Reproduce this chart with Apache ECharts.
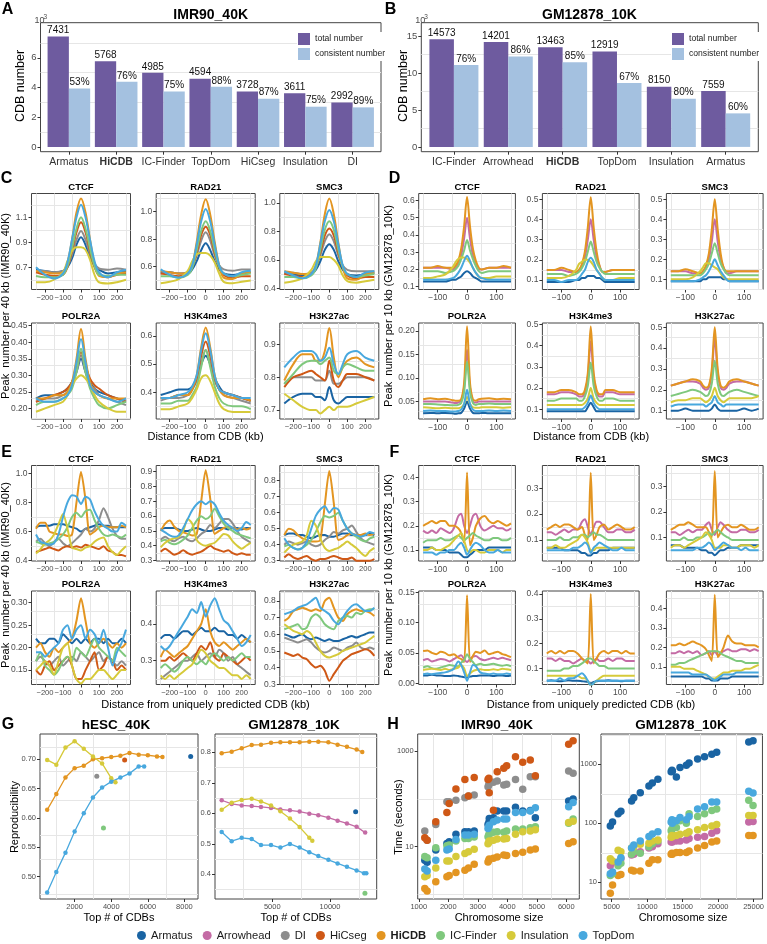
<!DOCTYPE html>
<html><head><meta charset="utf-8">
<script src="https://cdn.jsdelivr.net/npm/echarts@6/dist/echarts.min.js"></script>
<style>html,body{margin:0;padding:0;background:#fff;}#chart{width:767px;height:944px;}</style>
</head><body><div id="chart"></div>
<script>
// ================= DATA =================
const catsA = ['Armatus','HiCDB','IC-Finder','TopDom','HiCseg','Insulation','DI'];
const totalA = [7431,5768,4985,4594,3728,3611,2992];
const consistentA = [3938,4384,3739,4043,3243,2708,2663];
const pctA = [53,76,75,88,87,75,89];
const yTicksA = [0,2000,4000,6000];

const catsB = ['IC-Finder','Arrowhead','HiCDB','TopDom','Insulation','Armatus'];
const totalB = [14573,14201,13463,12919,8150,7559];
const consistentB = [11075,12213,11444,8656,6520,4535];
const pctB = [76,86,85,67,80,60];
const yTicksB = [0,5000,10000,15000];

const methodsAll = ['Armatus','Arrowhead','DI','HiCseg','HiCDB','IC-Finder','Insulation','TopDom'];
const methodsIMR = ['Armatus','DI','HiCseg','HiCDB','IC-Finder','Insulation','TopDom'];
const methodsGM = ['Armatus','Arrowhead','HiCDB','IC-Finder','Insulation','TopDom'];
const marks = ['CTCF','RAD21','SMC3','POLR2A','H3K4me3','H3K27ac'];

const xC = [-250,-200,-150,-100,-75,-50,-25,0,25,50,75,100,150,200,250];
const xD = [-150,-125,-100,-75,-50,-40,-30,-20,-10,0,10,20,30,40,50,75,100,125,150];
const xE = [-250,-225,-200,-175,-150,-125,-100,-75,-50,-25,0,25,50,75,100,125,150,175,200,225,250];
const xF = [-150,-135,-120,-105,-90,-75,-60,-45,-30,-20,-10,0,10,20,30,45,60,75,90,105,120,135,150];
const xTicks40 = [-200,-100,0,100,200];
const xTicks10 = [-100,0,100];

// C: IMR90_40K profiles (rows follow methodsIMR)
const cCTCF = [
[.68,.67,.66,.67,.70,.77,.88,.94,.88,.78,.71,.68,.65,.66,.67],
[.67,.67,.66,.67,.71,.80,.92,.99,.92,.81,.73,.69,.68,.69,.68],
[.66,.64,.63,.64,.70,.83,.98,1.06,.98,.83,.70,.64,.62,.64,.65],
[.67,.66,.65,.66,.74,.92,1.14,1.25,1.14,.92,.73,.63,.62,.65,.66],
[.63,.62,.62,.64,.71,.85,1.01,1.10,1.01,.85,.71,.64,.63,.64,.64],
[.58,.58,.60,.66,.75,.83,.86,.86,.84,.76,.64,.58,.57,.58,.60],
[.70,.64,.61,.65,.74,.92,1.10,1.20,1.10,.92,.75,.66,.62,.66,.68]];
const cRAD21 = [
[.56,.56,.55,.55,.58,.64,.72,.77,.72,.64,.58,.55,.54,.55,.56],
[.55,.56,.55,.56,.60,.68,.79,.85,.79,.68,.61,.58,.57,.58,.58],
[.55,.54,.53,.55,.60,.70,.83,.89,.83,.70,.60,.54,.52,.53,.53],
[.57,.56,.55,.55,.61,.78,.98,1.09,.98,.78,.61,.52,.51,.55,.56],
[.53,.53,.52,.54,.59,.72,.86,.93,.86,.72,.60,.55,.53,.54,.55],
[.48,.49,.51,.57,.64,.69,.70,.70,.68,.63,.55,.49,.48,.49,.50],
[.58,.54,.52,.55,.61,.76,.93,1.02,.93,.76,.61,.55,.53,.56,.57]];
const cSMC3 = [
[.51,.50,.49,.50,.53,.59,.67,.71,.67,.59,.53,.50,.49,.50,.51],
[.50,.51,.50,.51,.55,.63,.73,.78,.73,.63,.56,.53,.52,.52,.52],
[.50,.49,.48,.50,.55,.65,.77,.82,.77,.65,.55,.49,.47,.48,.48],
[.52,.51,.50,.50,.56,.72,.92,1.03,.92,.72,.55,.47,.46,.50,.51],
[.48,.48,.47,.49,.54,.67,.81,.87,.81,.67,.55,.50,.48,.49,.50],
[.44,.45,.47,.53,.59,.62,.62,.62,.60,.56,.49,.45,.44,.45,.46],
[.52,.49,.47,.50,.56,.71,.87,.95,.87,.71,.56,.50,.48,.51,.52]];
const cPOLR2A = [
[.23,.24,.24,.25,.26,.28,.31,.35,.31,.28,.26,.25,.24,.23,.22],
[.22,.23,.23,.24,.25,.27,.31,.36,.31,.27,.26,.24,.23,.22,.21],
[.22,.23,.24,.25,.26,.28,.32,.37,.33,.29,.27,.26,.24,.23,.22],
[.23,.23,.24,.24,.25,.28,.35,.44,.35,.28,.25,.24,.23,.23,.23],
[.21,.22,.22,.23,.24,.26,.31,.38,.31,.26,.23,.21,.20,.21,.22],
[.19,.20,.21,.22,.24,.27,.29,.30,.29,.27,.24,.22,.20,.19,.19],
[.23,.22,.22,.23,.24,.27,.34,.41,.34,.27,.25,.24,.23,.22,.23]];
const cH3K4me3 = [
[.39,.40,.41,.41,.42,.45,.50,.53,.50,.45,.42,.40,.39,.38,.37],
[.37,.38,.38,.39,.41,.44,.50,.55,.50,.44,.41,.39,.38,.37,.36],
[.38,.38,.39,.39,.41,.45,.53,.58,.53,.45,.41,.40,.39,.38,.37],
[.38,.38,.39,.39,.41,.46,.56,.63,.56,.46,.41,.39,.38,.38,.37],
[.36,.36,.37,.37,.39,.42,.49,.55,.49,.42,.38,.36,.35,.35,.34],
[.34,.34,.35,.36,.38,.41,.45,.46,.44,.40,.36,.34,.33,.33,.33],
[.38,.38,.39,.40,.42,.46,.55,.61,.55,.46,.41,.40,.39,.38,.38]];
const cH3K27ac = [
[.72,.74,.75,.75,.74,.74,.73,.77,.73,.72,.73,.74,.74,.74,.74],
[.78,.80,.80,.80,.79,.79,.79,.82,.78,.78,.79,.80,.80,.80,.79],
[.77,.80,.81,.82,.81,.80,.79,.85,.79,.77,.79,.81,.81,.80,.79],
[.79,.84,.87,.87,.85,.85,.88,.95,.86,.80,.83,.85,.86,.84,.83],
[.78,.81,.84,.85,.85,.84,.85,.86,.82,.81,.83,.84,.83,.82,.82],
[.75,.73,.71,.70,.70,.69,.70,.71,.70,.71,.71,.71,.72,.73,.74],
[.83,.86,.88,.88,.87,.85,.86,.89,.84,.81,.84,.87,.88,.86,.85]];

// D: GM12878_10K profiles (rows follow methodsGM)
const dCTCF = [
[.13,.13,.13,.13,.14,.14,.15,.16,.18,.19,.18,.16,.15,.14,.13,.13,.13,.13,.13],
[.21,.21,.21,.21,.20,.21,.23,.28,.38,.50,.38,.28,.23,.20,.20,.21,.21,.21,.21],
[.21,.21,.22,.21,.21,.22,.25,.32,.45,.62,.45,.32,.25,.21,.20,.21,.21,.22,.21],
[.19,.19,.19,.18,.19,.20,.22,.26,.31,.37,.31,.26,.22,.19,.18,.19,.19,.19,.19],
[.15,.15,.16,.17,.21,.24,.26,.27,.27,.26,.24,.21,.18,.16,.15,.15,.16,.16,.16],
[.14,.14,.14,.14,.15,.16,.18,.21,.25,.28,.25,.21,.18,.16,.15,.14,.14,.14,.14]];
const dRAD21 = [
[.09,.09,.09,.09,.10,.10,.11,.11,.12,.12,.12,.11,.11,.10,.09,.09,.09,.09,.09],
[.15,.15,.15,.14,.14,.15,.17,.21,.30,.40,.30,.21,.17,.14,.14,.15,.15,.15,.15],
[.15,.15,.16,.15,.14,.15,.18,.24,.36,.51,.36,.24,.17,.14,.14,.15,.15,.15,.15],
[.13,.13,.13,.12,.13,.14,.16,.19,.24,.29,.24,.19,.16,.14,.13,.13,.13,.13,.13],
[.11,.11,.11,.12,.15,.18,.19,.20,.20,.19,.17,.15,.13,.11,.10,.10,.11,.11,.11],
[.10,.10,.09,.10,.10,.11,.13,.15,.19,.21,.19,.15,.13,.11,.10,.10,.10,.10,.10]];
const dSMC3 = [
[.09,.09,.09,.09,.09,.10,.10,.11,.11,.11,.11,.11,.10,.10,.09,.09,.09,.09,.09],
[.14,.14,.14,.13,.13,.14,.16,.20,.29,.40,.29,.20,.16,.13,.13,.14,.14,.14,.14],
[.14,.14,.15,.14,.13,.14,.17,.23,.35,.50,.35,.23,.16,.14,.14,.14,.14,.14,.14],
[.12,.12,.12,.12,.12,.13,.15,.18,.23,.28,.23,.18,.15,.13,.12,.12,.12,.12,.12],
[.10,.10,.10,.11,.14,.16,.18,.18,.17,.16,.15,.13,.11,.10,.10,.10,.10,.10,.10],
[.09,.09,.09,.09,.10,.11,.12,.14,.17,.20,.17,.14,.12,.10,.09,.09,.09,.09,.09]];
const dPOLR2A = [
[.025,.026,.025,.026,.025,.024,.025,.026,.035,.05,.035,.026,.025,.025,.026,.025,.025,.025,.025],
[.05,.05,.05,.05,.048,.047,.048,.052,.08,.16,.08,.05,.048,.05,.05,.05,.05,.05,.05],
[.055,.057,.055,.056,.053,.052,.052,.055,.09,.21,.09,.055,.052,.055,.056,.057,.055,.056,.055],
[.045,.045,.044,.043,.042,.042,.043,.047,.07,.135,.07,.047,.043,.045,.045,.046,.045,.045,.045],
[.038,.037,.036,.037,.036,.036,.036,.038,.045,.06,.045,.038,.037,.037,.038,.038,.038,.037,.038],
[.03,.031,.03,.03,.029,.029,.03,.033,.045,.075,.045,.033,.03,.03,.03,.031,.03,.031,.03]];
const dH3K4me3 = [
[.09,.09,.09,.09,.09,.09,.09,.09,.11,.13,.11,.09,.09,.09,.09,.09,.09,.09,.09],
[.17,.17,.18,.18,.17,.16,.16,.18,.25,.42,.25,.18,.16,.16,.18,.18,.17,.17,.17],
[.18,.18,.19,.19,.18,.17,.17,.19,.27,.49,.27,.19,.17,.17,.19,.19,.18,.18,.18],
[.14,.14,.15,.15,.15,.14,.14,.16,.21,.32,.21,.16,.14,.14,.15,.15,.14,.14,.14],
[.12,.12,.12,.12,.12,.12,.12,.13,.15,.20,.15,.13,.12,.12,.12,.12,.12,.12,.12],
[.10,.10,.10,.10,.10,.10,.10,.11,.13,.165,.13,.11,.10,.10,.10,.10,.10,.10,.10]];
const dH3K27ac = [
[.10,.10,.11,.10,.10,.10,.10,.10,.11,.13,.11,.10,.10,.10,.10,.10,.11,.10,.11],
[.22,.23,.24,.24,.23,.21,.20,.21,.28,.45,.28,.21,.20,.21,.23,.24,.24,.23,.22],
[.22,.23,.24,.25,.24,.22,.21,.22,.30,.50,.30,.22,.21,.22,.24,.25,.24,.23,.22],
[.17,.18,.19,.20,.19,.18,.17,.18,.23,.34,.23,.18,.17,.18,.19,.20,.19,.18,.17],
[.14,.15,.15,.16,.16,.15,.14,.15,.17,.21,.17,.15,.14,.15,.16,.16,.16,.16,.17],
[.12,.13,.13,.13,.13,.13,.12,.13,.14,.17,.14,.13,.12,.13,.13,.13,.13,.13,.13]];

// E: IMR90_40K, uniquely predicted CDBs (rows follow methodsIMR)
const eCTCF = [
[.63,.64,.64,.64,.65,.65,.65,.64,.63,.62,.60,.62,.63,.64,.65,.64,.64,.63,.63,.63,.63],
[.53,.55,.52,.50,.53,.55,.52,.50,.52,.55,.58,.62,.60,.62,.68,.76,.70,.62,.57,.55,.55],
[.46,.47,.48,.49,.48,.47,.49,.50,.49,.50,.49,.51,.50,.49,.48,.50,.47,.46,.44,.44,.43],
[.62,.66,.66,.60,.59,.58,.58,.57,.58,.80,1.01,.82,.58,.60,.63,.64,.63,.63,.63,.64,.63],
[.53,.52,.51,.52,.53,.55,.58,.63,.70,.73,.70,.74,.75,.68,.62,.58,.57,.58,.57,.56,.58],
[.45,.48,.52,.54,.58,.65,.72,.62,.49,.48,.47,.49,.50,.53,.55,.56,.50,.46,.44,.47,.50],
[.58,.53,.52,.51,.52,.58,.70,.80,.85,.84,.79,.84,.82,.74,.68,.64,.62,.60,.60,.66,.64]];
const eRAD21 = [
[.51,.52,.52,.52,.51,.50,.50,.51,.52,.51,.50,.50,.51,.52,.52,.51,.52,.52,.51,.52,.52],
[.44,.46,.44,.43,.45,.46,.44,.43,.45,.48,.50,.54,.52,.55,.58,.58,.55,.50,.46,.44,.42],
[.36,.38,.36,.34,.35,.37,.35,.34,.35,.36,.38,.40,.38,.37,.36,.37,.35,.34,.35,.34,.34],
[.50,.55,.57,.53,.50,.49,.48,.47,.48,.70,.91,.72,.48,.50,.52,.53,.52,.51,.52,.51,.52],
[.43,.44,.42,.41,.42,.44,.47,.52,.57,.60,.58,.60,.65,.60,.55,.52,.50,.48,.47,.46,.45],
[.39,.42,.44,.45,.46,.50,.58,.55,.44,.41,.40,.41,.42,.45,.48,.47,.43,.40,.38,.40,.42],
[.51,.49,.47,.46,.47,.52,.58,.64,.68,.70,.68,.70,.68,.62,.57,.54,.52,.50,.52,.56,.54]];
const eSMC3 = [
[.46,.47,.47,.46,.46,.45,.44,.45,.46,.46,.45,.45,.46,.47,.47,.46,.46,.46,.46,.47,.46],
[.40,.42,.41,.40,.41,.42,.40,.39,.40,.43,.45,.48,.47,.49,.50,.52,.48,.44,.42,.41,.40],
[.32,.34,.32,.31,.32,.33,.31,.30,.31,.31,.32,.33,.32,.31,.31,.32,.30,.30,.30,.30,.31],
[.46,.50,.49,.46,.44,.43,.42,.42,.43,.65,.86,.66,.43,.44,.46,.47,.46,.46,.47,.46,.47],
[.39,.40,.38,.37,.38,.40,.43,.48,.54,.58,.57,.58,.60,.55,.50,.47,.45,.43,.42,.44,.45],
[.35,.38,.40,.41,.42,.46,.55,.52,.44,.38,.36,.37,.38,.40,.42,.40,.38,.35,.33,.36,.38],
[.44,.40,.38,.37,.38,.42,.50,.58,.62,.64,.60,.63,.62,.55,.50,.47,.46,.45,.46,.48,.47]];
const ePOLR2A = [
[.22,.21,.21,.22,.22,.21,.23,.22,.21,.22,.21,.22,.21,.22,.22,.21,.22,.21,.21,.22,.21],
[.17,.18,.17,.16,.17,.18,.16,.17,.18,.17,.19,.18,.17,.18,.19,.17,.18,.17,.16,.17,.16],
[.15,.14,.16,.17,.15,.16,.17,.18,.16,.13,.13,.15,.17,.19,.15,.16,.18,.17,.15,.16,.15],
[.20,.21,.19,.18,.20,.19,.20,.21,.22,.26,.31,.26,.21,.20,.21,.22,.21,.20,.21,.20,.21],
[.17,.19,.16,.15,.14,.15,.17,.18,.17,.20,.19,.18,.20,.22,.20,.19,.18,.17,.20,.19,.18],
[.15,.16,.17,.16,.14,.17,.20,.21,.16,.13,.12,.13,.13,.14,.15,.15,.14,.13,.14,.15,.15],
[.19,.19,.18,.19,.20,.21,.24,.25,.22,.24,.25,.22,.24,.23,.21,.24,.20,.16,.19,.21,.24]];
const eH3K4me3 = [
[.36,.37,.37,.36,.37,.38,.38,.37,.38,.39,.38,.38,.39,.38,.38,.37,.37,.36,.37,.36,.35],
[.25,.26,.27,.28,.29,.30,.30,.31,.32,.30,.31,.32,.31,.33,.32,.30,.31,.29,.28,.27,.26],
[.30,.30,.31,.30,.31,.32,.31,.30,.32,.34,.33,.35,.31,.30,.32,.31,.30,.29,.30,.31,.30],
[.31,.33,.32,.31,.32,.33,.34,.36,.38,.40,.44,.38,.35,.34,.35,.34,.33,.34,.35,.36,.35],
[.28,.29,.28,.27,.28,.30,.31,.30,.29,.30,.29,.31,.32,.31,.30,.31,.30,.31,.32,.31,.31],
[.26,.25,.26,.25,.26,.27,.28,.29,.31,.33,.32,.30,.29,.28,.28,.27,.26,.26,.25,.26,.25],
[.34,.33,.34,.36,.38,.40,.42,.44,.43,.46,.42,.45,.47,.44,.41,.40,.38,.36,.34,.35,.37]];
const eH3K27ac = [
[.60,.59,.58,.59,.60,.58,.57,.58,.57,.56,.57,.56,.56,.57,.58,.59,.58,.59,.60,.61,.61],
[.58,.57,.56,.55,.56,.57,.55,.52,.50,.49,.50,.52,.51,.50,.52,.53,.55,.52,.51,.52,.51],
[.49,.48,.47,.48,.46,.45,.42,.40,.41,.38,.32,.36,.40,.44,.46,.48,.49,.50,.51,.50,.47],
[.68,.70,.74,.75,.76,.75,.74,.75,.74,.80,.82,.76,.70,.68,.72,.74,.75,.74,.74,.73,.71],
[.63,.64,.65,.66,.63,.64,.70,.72,.70,.66,.64,.63,.68,.70,.71,.70,.73,.72,.74,.75,.75],
[.66,.64,.62,.61,.60,.62,.60,.55,.50,.47,.46,.47,.48,.50,.51,.52,.53,.54,.55,.57,.59],
[.72,.73,.74,.76,.77,.78,.80,.82,.76,.74,.72,.68,.66,.70,.74,.77,.78,.76,.74,.74,.76]];

// F: GM12878_10K, uniquely predicted CDBs (rows follow methodsGM)
const fCTCF = [
[.11,.11,.11,.10,.10,.10,.09,.09,.09,.08,.07,.07,.08,.09,.10,.10,.10,.11,.11,.11,.11,.11,.11],
[.18,.17,.18,.17,.19,.18,.17,.19,.24,.25,.20,.17,.20,.24,.25,.20,.18,.19,.20,.19,.19,.18,.19],
[.20,.21,.22,.21,.22,.22,.20,.20,.19,.17,.13,.42,.12,.15,.20,.23,.24,.22,.21,.22,.21,.20,.21],
[.13,.14,.14,.14,.15,.14,.14,.15,.16,.15,.14,.15,.16,.17,.16,.15,.14,.14,.15,.15,.14,.14,.15],
[.10,.10,.11,.10,.10,.11,.12,.14,.16,.17,.14,.10,.09,.10,.10,.09,.09,.10,.10,.10,.09,.10,.10],
[.09,.09,.09,.08,.09,.09,.10,.10,.12,.13,.11,.08,.10,.12,.13,.12,.10,.09,.09,.10,.09,.09,.09]];
const fRAD21 = [
[.07,.07,.07,.07,.06,.06,.06,.06,.05,.05,.04,.04,.05,.05,.06,.06,.06,.07,.07,.07,.07,.07,.07],
[.13,.13,.12,.13,.14,.13,.14,.14,.17,.18,.15,.12,.15,.17,.17,.15,.13,.13,.14,.14,.13,.13,.14],
[.14,.15,.16,.15,.16,.16,.15,.14,.15,.12,.10,.36,.10,.12,.15,.16,.14,.15,.16,.15,.14,.14,.15],
[.10,.10,.10,.11,.10,.10,.11,.11,.12,.12,.11,.12,.13,.12,.12,.11,.10,.10,.10,.10,.10,.10,.10],
[.07,.07,.08,.07,.07,.08,.09,.10,.12,.11,.09,.06,.06,.07,.07,.07,.07,.07,.07,.07,.07,.07,.07],
[.06,.06,.06,.06,.06,.06,.07,.07,.08,.09,.08,.05,.07,.08,.09,.08,.07,.06,.06,.07,.06,.06,.06]];
const fSMC3 = [
[.07,.07,.07,.06,.06,.06,.06,.05,.05,.04,.04,.03,.04,.05,.05,.06,.06,.06,.07,.07,.07,.07,.07],
[.12,.12,.11,.12,.13,.12,.13,.13,.15,.16,.13,.11,.14,.16,.15,.13,.12,.12,.13,.13,.12,.12,.13],
[.13,.14,.15,.15,.16,.15,.14,.14,.14,.12,.10,.36,.10,.12,.14,.15,.14,.14,.15,.14,.13,.13,.14],
[.09,.09,.09,.10,.09,.09,.10,.10,.11,.12,.11,.12,.13,.12,.11,.10,.09,.09,.09,.09,.09,.09,.09],
[.06,.07,.07,.06,.07,.08,.09,.10,.12,.11,.09,.06,.06,.06,.07,.07,.06,.06,.07,.07,.07,.06,.07],
[.05,.05,.05,.05,.05,.05,.06,.06,.07,.08,.07,.05,.06,.07,.08,.07,.06,.06,.05,.06,.05,.05,.05]];
const fPOLR2A = [
[.013,.013,.014,.013,.013,.012,.012,.013,.012,.011,.010,.010,.011,.012,.012,.013,.013,.013,.012,.013,.013,.012,.013],
[.038,.040,.036,.038,.040,.039,.036,.040,.044,.046,.040,.035,.040,.044,.045,.040,.038,.040,.042,.040,.042,.040,.038],
[.053,.054,.050,.048,.052,.050,.046,.048,.042,.040,.035,.145,.035,.045,.052,.050,.054,.048,.050,.052,.048,.046,.043],
[.026,.028,.025,.024,.026,.028,.030,.029,.028,.034,.038,.048,.040,.035,.030,.032,.030,.031,.032,.030,.029,.030,.028],
[.022,.023,.024,.023,.022,.024,.022,.024,.026,.030,.025,.012,.016,.020,.022,.023,.022,.022,.023,.022,.024,.023,.022],
[.015,.016,.015,.016,.017,.018,.020,.024,.036,.030,.018,.004,.018,.030,.028,.018,.016,.015,.016,.015,.015,.016,.015]];
const fH3K4me3 = [
[.05,.052,.05,.048,.05,.052,.05,.05,.048,.047,.045,.04,.045,.048,.05,.05,.052,.05,.05,.048,.05,.05,.05],
[.14,.14,.13,.14,.13,.13,.12,.13,.14,.13,.13,.12,.13,.14,.13,.13,.14,.13,.14,.14,.13,.13,.13],
[.16,.17,.16,.17,.16,.17,.17,.16,.14,.13,.12,.40,.12,.14,.16,.17,.16,.17,.17,.16,.17,.16,.16],
[.09,.09,.09,.09,.10,.10,.11,.11,.12,.13,.14,.14,.13,.12,.11,.11,.10,.10,.10,.10,.10,.10,.10],
[.07,.07,.07,.07,.07,.07,.07,.07,.06,.06,.05,.03,.04,.05,.06,.07,.07,.07,.07,.07,.07,.07,.07],
[.05,.05,.05,.06,.05,.06,.06,.07,.08,.07,.05,.03,.04,.05,.05,.05,.05,.05,.05,.05,.05,.05,.05]];
const fH3K27ac = [
[.05,.05,.05,.05,.05,.05,.05,.05,.04,.04,.03,.03,.03,.04,.04,.04,.05,.05,.05,.05,.05,.05,.05],
[.17,.17,.18,.17,.18,.17,.18,.16,.17,.18,.16,.18,.16,.17,.18,.19,.18,.18,.19,.19,.18,.19,.18],
[.21,.21,.22,.21,.22,.23,.22,.21,.19,.16,.13,.47,.15,.17,.20,.26,.23,.22,.22,.21,.21,.21,.20],
[.11,.11,.12,.12,.13,.14,.15,.16,.17,.18,.18,.18,.18,.17,.16,.15,.14,.13,.13,.12,.12,.12,.12],
[.10,.10,.10,.09,.09,.09,.08,.07,.06,.05,.04,.04,.05,.06,.07,.07,.08,.08,.08,.09,.09,.10,.11],
[.07,.07,.07,.07,.07,.06,.06,.06,.06,.05,.04,.03,.04,.05,.06,.06,.06,.07,.07,.07,.07,.07,.07]];

const yTicksC = [[0.7,0.9,1.1],[0.6,0.8,1.0],[0.4,0.6,0.8,1.0],[0.2,0.25,0.3,0.35,0.4,0.45],[0.4,0.5,0.6],[0.7,0.8,0.9]];
const yTicksD = [[.1,.2,.3,.4,.5,.6],[.1,.2,.3,.4,.5],[.1,.2,.3,.4,.5],[.05,.1,.15,.2],[.1,.2,.3,.4,.5],[.1,.2,.3,.4,.5]];
const yTicksE = [[.4,.6,.8,1.0],[.3,.4,.5,.6,.7,.8,.9],[.3,.4,.5,.6,.7,.8],[.15,.2,.25,.3],[.3,.4],[.3,.4,.5,.6,.7,.8]];
const yTicksF = [[.1,.2,.3,.4],[.1,.2,.3],[.1,.2,.3],[0,.05,.1,.15],[.1,.2,.3,.4],[.1,.2,.3,.4]];

// G: reproducibility
const gL_HiCDB_x = [500,1000,1500,2000,2500,3000,3500,4000,4500,5000,5500,6000,6500,6800];
const gL_HiCDB_y = [0.614,0.641,0.669,0.685,0.689,0.700,0.702,0.704,0.706,0.711,0.708,0.707,0.705,0.704];
const gL_Ins_x = [500,1000,1500,2000,2500,3000,3500,4000,4230];
const gL_Ins_y = [0.699,0.691,0.720,0.731,0.718,0.705,0.693,0.668,0.661];
const gL_TopDom_x = [500,1000,1500,2000,2500,3000,3500,4000,4500,5000,5500,5800];
const gL_TopDom_y = [0.473,0.508,0.541,0.577,0.608,0.635,0.652,0.662,0.669,0.676,0.688,0.688];
const gL_Armatus = [[8342,0.705]];
const gL_DI = [[3212,0.671]];
const gL_HiCseg = [[4734,0.699]];
const gL_IC = [[3576,0.583]];
const gTicksLX = [2000,4000,6000,8000];
const gTicksLY = [0.5,0.55,0.6,0.65,0.7];

const gR_HiCDB_x = [615,1480,2350,3215,4020,4890,5700,6530,7370,8210,8990,9860,10660,11470,12310,12800];
const gR_HiCDB_y = [0.797,0.802,0.813,0.824,0.825,0.831,0.833,0.833,0.833,0.835,0.835,0.833,0.825,0.818,0.809,0.801];
const gR_Arrow_x = [615,1480,2350,3215,4020,4890,5700,6530,7370,8210,8990,9860,10660,11470,12310,13050];
const gR_Arrow_y = [0.643,0.631,0.626,0.624,0.621,0.618,0.613,0.610,0.606,0.599,0.594,0.586,0.576,0.567,0.556,0.537];
const gR_Ins_x = [615,1480,2350,3215,4020,4890,5700,6530,7370,8210,8470];
const gR_Ins_y = [0.612,0.635,0.644,0.648,0.639,0.626,0.607,0.583,0.555,0.520,0.510];
const gR_TopDom_x = [615,1480,2350,3215,4020,4890,5700,6530,7370,8210,8990,9860,10660,11470,12310,12950,13150];
const gR_TopDom_y = [0.539,0.509,0.520,0.516,0.496,0.496,0.488,0.500,0.488,0.473,0.460,0.448,0.436,0.425,0.413,0.404,0.404];
const gR_Armatus = [[12225,0.605]];
const gR_IC = [[13030,0.338]];
const gTicksRX = [5000,10000];
const gTicksRY = [0.4,0.5,0.6,0.7,0.8];

// H: running time
const hL_size = [1203,1282,1576,1952,2030,2259,2563,2684,2879,3346,3375,3388,3530,3659,3881,3979,4278,4523,4779,4951,6080,6231];
const hL_Armatus = [5.2,4.7,8.5,11.7,12.7,18.1,20.5,20.5,21.2,29,32,39,40,56,56,56,67,56,57,40,90,99];
const hL_DI = [21.2,13.7,29,87,87,93,106,115,120,180,195,211,221,236,195,201,255,158,290,290,382,341];
const hL_HiCseg = [15.4,13.7,33,52,80,160,255,115,281,255,268,134,58,370,434,493,761,580,649,305,1378,1645];
const hL_HiCDB = [1.34,1.18,1.85,2.35,2.5,2.9,3.2,3.6,4.3,4.8,5.2,5.5,5.7,6.1,6.7,6.5,7.2,7.6,8.5,8.9,11.7,12.7];
const hL_IC = [6.2,5.9,9.5,10.5,10.8,13.1,14.9,14.9,15.9,16.1,17.5,18.6,19.9,20.5,19.9,21.2,23.3,23.3,25,26,31,38];
const hL_Ins = [2.35,2.5,3.6,5.0,5.0,6.2,7.2,7.8,8.8,11.5,12.3,13.1,13.7,14.4,14.4,14.9,18.1,20.5,21.2,22.6,32,34];
const hL_TopDom = [3.4,3.1,5.2,8.5,8.9,14.2,17.5,17.5,18.1,24,26,28,33,36,38,38,52,52,56,65,68,84];
const hTicksLX = [1000,2000,3000,4000,5000,6000];
const hTicksLY = [10,1000];

const hR_size = [4813,5130,5913,6303,7808,8120,9035,10253,10735,11517,13385,13501,13553,14121,14636,15527,15914,17112,18092,19115,19802,24320,24925];
const hR_Armatus = [90,105,145,160,240,270,330,430,480,560,750,790,760,610,880,960,1050,1230,1340,1480,1600,2400,2500];
const hR_Arrowhead = [19,22,20,25,29,30,33,38,40,45,48,49,48,50,50,52,55,58,60,68,75,105,107];
const hR_HiCDB = [6.5,9,13,13.5,16,15.5,15.5,21,24,24,30,31,30,32,32,32,34,38,42,48,50,62,62];
const hR_IC = [13,14,19,21,30,33,31,40,45,50,75,80,65,85,110,100,145,130,145,165,175,245,200];
const hR_Ins = [25,23,35,33,38,40,44,46,50,52,58,62,60,62,65,68,72,78,85,90,95,135,135];
const hR_TopDom = [14,15,22,26,38,43,50,60,66,72,105,115,100,110,125,115,130,175,190,230,230,350,325];
const hTicksRX = [5000,10000,15000,20000,25000];
const hTicksRY = [10,100,1000];

// ================= STYLE / LAYOUT =================
const FONT = '"Liberation Sans", Arial, Helvetica, sans-serif';
const COLORS = {'Armatus':'#1a64a3','Arrowhead':'#c46ba5','DI':'#8d8d8d','HiCseg':'#cf5816','HiCDB':'#e39521','IC-Finder':'#7fc87d','Insulation':'#d6ca3a','TopDom':'#48a8de'};
const TOTAL_COLOR = '#6e5b9f', CONS_COLOR = '#a4c1e0';
const TICK_COLOR = '#4d4d4d', BORDER = '#444', GRIDC = '#e6e6e6';

const grid = [], xAxis = [], yAxis = [], series = [], gtext = [];

function fmtDec(d){ return v => (v < -1e-12 ? '\u2212' : '') + Math.abs(v).toFixed(d); }
function fmtInt(v){ return (v < 0 ? '\u2212' : '') + String(Math.abs(Math.round(v))); }
function decOf(t){ return t.some(v => Math.abs(v*10 - Math.round(v*10)) > 1e-9) ? 2 : 1; }
function minors(ticks, range, isLog){
  const out = [];
  if (ticks.length < 2) return out;
  if (isLog) { const r = Math.sqrt(ticks[1]/ticks[0]); out.push(ticks[0]/r); ticks.forEach(t => out.push(t*r)); }
  else { const s = (ticks[1]-ticks[0])/2; out.push(+(ticks[0]-s).toFixed(6)); ticks.forEach(t => out.push(+(t+s).toFixed(6))); }
  return out.filter(v => v > range[0] && v < range[1]);
}
function mkAxis(gi, a){
  const ax = {gridIndex: gi, type: a.type || 'value', min: a.range[0], max: a.range[1],
    axisLine: {show: false, onZero: false}, splitLine: {show: false},
    minorTick: {show: false}, minorSplitLine: {show: false},
    axisTick: {show: true, length: 3, lineStyle: {color: '#333', width: 1}, customValues: a.ticks},
    axisLabel: {show: true, customValues: a.ticks, formatter: a.fmt, fontSize: a.size, color: a.color || TICK_COLOR,
      fontFamily: FONT, margin: a.margin || 4, hideOverlap: false, showMinLabel: true, showMaxLabel: true}};
  if (ax.type === 'log') ax.logBase = 10;
  if (a.rich) ax.axisLabel.rich = a.rich;
  return ax;
}
function addPanel(box, xa, ya){
  const gi = grid.length;
  grid.push({left: box[0], top: box[1], width: box[2], height: box[3], show: true,
    borderColor: BORDER, borderWidth: 1, backgroundColor: 'rgba(0,0,0,0)'});
  xAxis.push(mkAxis(gi, xa));
  yAxis.push(mkAxis(gi, ya));
  const ml = [];
  if (!xa.noGrid) minors(xa.ticks, xa.range, xa.type === 'log').forEach(v => ml.push({xAxis: v}));
  if (!ya.noGrid) minors(ya.ticks, ya.range, ya.type === 'log').forEach(v => ml.push({yAxis: v}));
  series.push({type: 'line', xAxisIndex: gi, yAxisIndex: gi, data: [], silent: true, z: 1, animation: false,
    markLine: {silent: true, symbol: ['none','none'], z: 1, animation: false, label: {show: false},
      emphasis: {disabled: true}, lineStyle: {color: GRIDC, width: 1, type: 'solid'}, data: ml}});
  return gi;
}
function txt(x, y, text, size, o){
  o = o || {};
  return {type: 'text', x: x, y: y, rotation: o.rot || 0, silent: true, z: 20,
    style: {text: text, fontSize: size, fontFamily: FONT, fontWeight: o.bold ? 'bold' : 'normal',
      fill: o.color || '#000', align: 'center', verticalAlign: 'middle', textAlign: 'center', textVerticalAlign: 'middle'}};
}

// ---------- A & B (bars) ----------
function barPanel(box, cats, total, cons, pct, yRange, yTicks, barW){
  const rich = {b: {fontWeight: 'bold', fontSize: 10.5, color: '#333', fontFamily: FONT}};
  const gi = addPanel(box,
    {range: [0.4, cats.length + 0.6], ticks: cats.map((c, i) => i + 1),
     fmt: v => { const n = cats[Math.round(v) - 1] || ''; return n === 'HiCDB' ? '{b|HiCDB}' : n; },
     size: 10.5, color: '#333', rich: rich, noGrid: true, margin: 5},
    {range: yRange, ticks: yTicks, fmt: v => String(v / 1000), size: 9.5});
  const lab = {show: true, position: 'top', distance: 1, fontSize: 10, color: '#111', fontFamily: FONT};
  series.push({type: 'bar', name: 'total number', xAxisIndex: gi, yAxisIndex: gi,
    data: total.map((v, i) => [i + 1, v]), barWidth: barW, barGap: '0%', z: 3, silent: true, animation: false,
    itemStyle: {color: TOTAL_COLOR}, label: Object.assign({}, lab, {formatter: p => String(total[p.dataIndex])})});
  series.push({type: 'bar', name: 'consistent number', xAxisIndex: gi, yAxisIndex: gi,
    data: cons.map((v, i) => [i + 1, v]), barWidth: barW, barGap: '0%', z: 3, silent: true, animation: false,
    itemStyle: {color: CONS_COLOR}, label: Object.assign({}, lab, {formatter: p => pct[p.dataIndex] + '%'})});
}
barPanel([40.5, 22.7, 340.5, 129], catsA, totalA, consistentA, pctA, [-320, 8360], yTicksA, 21.3);
barPanel([421.3, 22.7, 337, 129], catsB, totalB, consistentB, pctB, [-650, 16800], yTicksB, 24.5);

// ---------- C, D, E, F (profiles) ----------
const left40 = [31.5, 156.2, 279.8], w40 = 99;
const left10 = [418.7, 542.4, 666.4], w10 = 96.7;
const rowsCD = [[193.5, 96], [323, 96]];
const rowsEF = [[465.5, 95.5], [591, 93.5]];
const yRangeC = [[0.522,1.29],[0.434,1.132],[0.392,1.065],[0.168,0.458],[0.305,0.646],[0.673,0.965]];
const yRangeD = [[0.084,0.64],[0.053,0.528],[0.049,0.529],[0.013,0.217],[0.054,0.506],[0.06,0.52]];
const yRangeE = [[0.398,1.054],[0.297,0.942],[0.298,0.895],[0.118,0.326],[0.235,0.49],[0.298,0.86]];
const yRangeF = [[0.0545,0.449],[0.0186,0.388],[0.0078,0.382],[-0.002,0.152],[0.035,0.412],[0.009,0.489]];

function profileBlock(panels, xs, methods, lefts, w, rows, xr, xt, yRanges, yTicksList, smooth, xSize){
  panels.forEach((pd, k) => {
    const col = k % 3, row = Math.floor(k / 3);
    const box = [lefts[col], rows[row][0], w, rows[row][1]];
    const gi = addPanel(box,
      {range: xr, ticks: xt, fmt: fmtInt, size: xSize, margin: 4},
      {range: yRanges[k], ticks: yTicksList[k], fmt: fmtDec(decOf(yTicksList[k])), size: 8.5});
    methods.forEach((m, mi) => {
      series.push({type: 'line', name: m, xAxisIndex: gi, yAxisIndex: gi,
        data: xs.map((x, i) => [x, pd[mi][i]]), showSymbol: false, symbol: 'none', smooth: smooth,
        lineStyle: {width: 2, color: COLORS[m]}, itemStyle: {color: COLORS[m]}, z: 3, silent: true, animation: false});
    });
    gtext.push(txt(box[0] + w / 2, rows[row][0] - 6.5, marks[k], 9.5, {bold: true}));
  });
}
profileBlock([cCTCF,cRAD21,cSMC3,cPOLR2A,cH3K4me3,cH3K27ac], xC, methodsIMR, left40, w40, rowsCD, [-275,275], xTicks40, yRangeC, yTicksC, 0.35, 7.6);
profileBlock([dCTCF,dRAD21,dSMC3,dPOLR2A,dH3K4me3,dH3K27ac], xD, methodsGM, left10, w10, rowsCD, [-165,165], xTicks10, yRangeD, yTicksD, 0.3, 8.5);
profileBlock([eCTCF,eRAD21,eSMC3,ePOLR2A,eH3K4me3,eH3K27ac], xE, methodsIMR, left40, w40, rowsEF, [-275,275], xTicks40, yRangeE, yTicksE, 0.25, 7.6);
profileBlock([fCTCF,fRAD21,fSMC3,fPOLR2A,fH3K4me3,fH3K27ac], xF, methodsGM, left10, w10, rowsEF, [-165,165], xTicks10, yRangeF, yTicksF, 0.25, 8.5);

// ---------- G ----------
function lineSer(gi, name, xs, ys){
  return {type: 'line', name: name, xAxisIndex: gi, yAxisIndex: gi, data: xs.map((x, i) => [x, ys[i]]),
    symbol: 'circle', symbolSize: 4.5, showSymbol: true, lineStyle: {width: 1.3, color: COLORS[name]},
    itemStyle: {color: COLORS[name]}, z: 3, silent: true, animation: false};
}
function dotSer(gi, name, pts, size){
  return {type: 'scatter', name: name, xAxisIndex: gi, yAxisIndex: gi, data: pts, symbolSize: size,
    itemStyle: {color: COLORS[name], opacity: 1}, z: 3, silent: true, animation: false};
}
const giGL = addPanel([40, 734, 158, 165],
  {range: [108, 8742], ticks: gTicksLX, fmt: fmtInt, size: 7.5},
  {range: [0.462, 0.7432], ticks: gTicksLY, fmt: fmtDec(2), size: 7.5});
series.push(dotSer(giGL, 'Armatus', gL_Armatus, 5));
series.push(dotSer(giGL, 'DI', gL_DI, 5));
series.push(dotSer(giGL, 'HiCseg', gL_HiCseg, 5));
series.push(lineSer(giGL, 'HiCDB', gL_HiCDB_x, gL_HiCDB_y));
series.push(dotSer(giGL, 'IC-Finder', gL_IC, 5));
series.push(lineSer(giGL, 'Insulation', gL_Ins_x, gL_Ins_y));
series.push(lineSer(giGL, 'TopDom', gL_TopDom_x, gL_TopDom_y));

const giGR = addPanel([215, 734, 161.7, 165],
  {range: [35, 14050], ticks: gTicksRX, fmt: fmtInt, size: 7.5},
  {range: [0.3195, 0.86], ticks: gTicksRY, fmt: fmtDec(1), size: 7.5});
series.push(dotSer(giGR, 'Armatus', gR_Armatus, 5));
series.push(lineSer(giGR, 'Arrowhead', gR_Arrow_x, gR_Arrow_y));
series.push(lineSer(giGR, 'HiCDB', gR_HiCDB_x, gR_HiCDB_y));
series.push(dotSer(giGR, 'IC-Finder', gR_IC, 5));
series.push(lineSer(giGR, 'Insulation', gR_Ins_x, gR_Ins_y));
series.push(lineSer(giGR, 'TopDom', gR_TopDom_x, gR_TopDom_y));

// ---------- H ----------
const giHL = addPanel([417.7, 734, 161.6, 165],
  {range: [963, 6441], ticks: hTicksLX, fmt: fmtInt, size: 7.5},
  {type: 'log', range: [0.805, 2268], ticks: hTicksLY, fmt: fmtInt, size: 7.5});
[['Armatus', hL_Armatus], ['DI', hL_DI], ['HiCseg', hL_HiCseg], ['HiCDB', hL_HiCDB], ['IC-Finder', hL_IC], ['Insulation', hL_Ins], ['TopDom', hL_TopDom]]
  .forEach(([n, v]) => series.push(dotSer(giHL, n, hL_size.map((x, i) => [x, v[i]]), 7.5)));

const giHR = addPanel([601, 734, 162.3, 165],
  {range: [3500, 26250], ticks: hTicksRX, fmt: fmtInt, size: 7.5},
  {type: 'log', range: [5.21, 3266], ticks: hTicksRY, fmt: fmtInt, size: 7.5});
[['Armatus', hR_Armatus], ['Arrowhead', hR_Arrowhead], ['HiCDB', hR_HiCDB], ['IC-Finder', hR_IC], ['Insulation', hR_Ins], ['TopDom', hR_TopDom]]
  .forEach(([n, v]) => series.push(dotSer(giHR, n, hR_size.map((x, i) => [x, v[i]]), 7.5)));

// ---------- Texts ----------
const R = Math.PI / 2;
gtext.push(
  txt(7.5, 9.5, 'A', 16, {bold: true}), txt(390.5, 9.5, 'B', 16, {bold: true}),
  txt(6.5, 179, 'C', 16, {bold: true}), txt(394.5, 179, 'D', 16, {bold: true}),
  txt(6.7, 453, 'E', 16, {bold: true}), txt(394.5, 453, 'F', 16, {bold: true}),
  txt(8, 725, 'G', 16, {bold: true}), txt(393, 725, 'H', 16, {bold: true}),
  txt(210.7, 15, 'IMR90_40K', 14, {bold: true}), txt(589.5, 15, 'GM12878_10K', 14, {bold: true}),
  txt(39.5, 21, '10', 9, {color: TICK_COLOR}), txt(45.3, 17.5, '3', 6.5, {color: TICK_COLOR}),
  txt(420.3, 21, '10', 9, {color: TICK_COLOR}), txt(426.1, 17.5, '3', 6.5, {color: TICK_COLOR}),
  txt(21, 86, 'CDB number', 12.5, {rot: R}), txt(404, 86, 'CDB number', 12.5, {rot: R}),
  txt(6, 306, 'Peak  number per 40 kb (IMR90_40K)', 11, {rot: R}),
  txt(389, 306, 'Peak  number per 10 kb (GM12878_10K)', 11, {rot: R}),
  txt(205.5, 437, 'Distance from CDB (kb)', 11), txt(591, 437, 'Distance from CDB (kb)', 11),
  txt(6, 575, 'Peak  number per 40 kb (IMR90_40K)', 11, {rot: R}),
  txt(389, 575, 'Peak  number per 10 kb (GM12878_10K)', 11, {rot: R}),
  txt(205.5, 705, 'Distance from uniquely predicted CDB (kb)', 11),
  txt(591, 705, 'Distance from uniquely predicted CDB (kb)', 11),
  txt(116, 725, 'hESC_40K', 13.5, {bold: true}), txt(294, 725, 'GM12878_10K', 13.5, {bold: true}),
  txt(497, 725, 'IMR90_40K', 13.5, {bold: true}), txt(681, 725, 'GM12878_10K', 13.5, {bold: true}),
  txt(15, 817, 'Reproducibility', 11, {rot: R}), txt(399, 817, 'Time (seconds)', 11, {rot: R}),
  txt(119, 918, 'Top # of CDBs', 11), txt(296, 918, 'Top # of CDBs', 11),
  txt(499, 918, 'Chromosome size', 11), txt(683, 918, 'Chromosome size', 11)
);

const barLegend = (left) => ({data: ['total number', 'consistent number'], orient: 'vertical', left: left, top: 32,
  itemWidth: 12, itemHeight: 12, itemGap: 3, icon: 'rect', backgroundColor: '#fff', padding: [1, 3, 1, 1],
  selectedMode: false, textStyle: {fontSize: 8.6, color: '#1a1a1a', fontFamily: FONT}});

const option = {
  animation: false,
  textStyle: {fontFamily: FONT},
  grid: grid, xAxis: xAxis, yAxis: yAxis, series: series,
  legend: [
    barLegend(297), barLegend(671),
    {data: methodsAll, orient: 'horizontal', left: 137, top: 930, itemWidth: 9, itemHeight: 9, itemGap: 10,
     icon: 'circle', selectedMode: false, padding: 0,
     formatter: n => n === 'HiCDB' ? '{b|HiCDB}' : n,
     textStyle: {fontSize: 11.2, color: '#1a1a1a', fontFamily: FONT,
       rich: {b: {fontWeight: 'bold', fontSize: 11.2, color: '#1a1a1a', fontFamily: FONT}}}}
  ],
  graphic: {elements: gtext}
};
const chart = echarts.init(document.getElementById('chart'), null, {renderer: 'canvas'});
chart.setOption(option);
</script></body></html>
